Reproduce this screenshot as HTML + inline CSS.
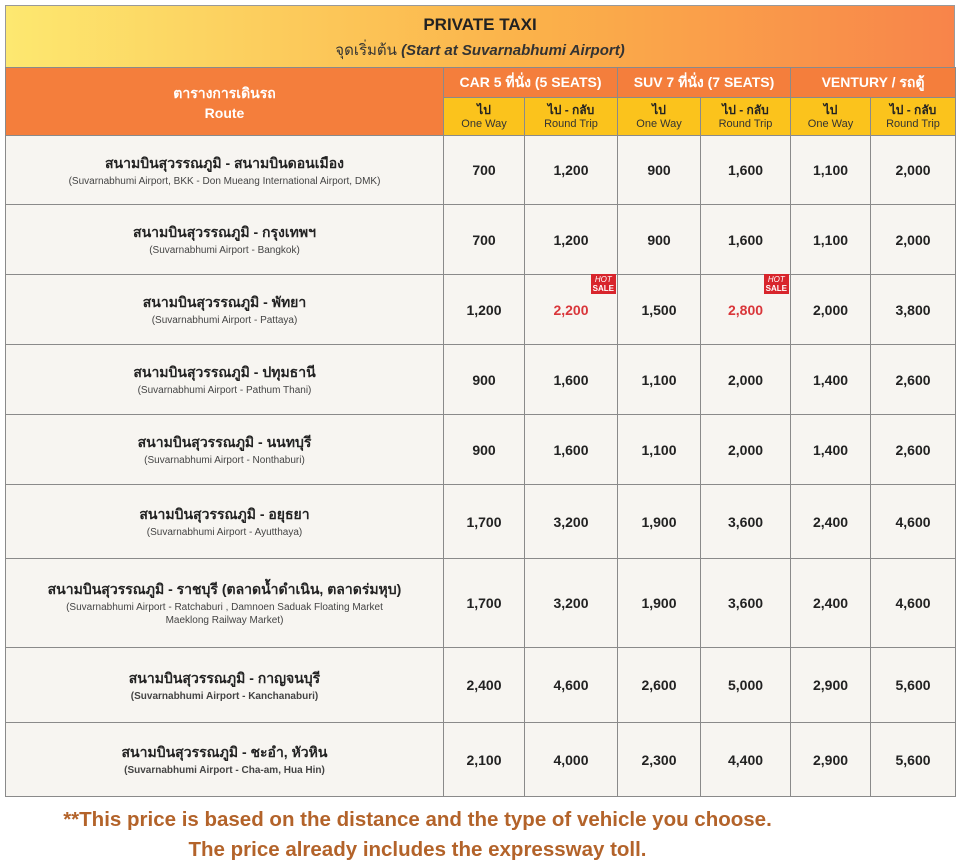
<!DOCTYPE html><html><head><meta charset="utf-8"><style>
body{margin:0;width:960px;height:866px;background:#fff;font-family:"Liberation Sans","Noto Sans CJK SC",sans-serif;position:relative;overflow:hidden}
.title{position:absolute;left:5px;top:5px;width:948px;height:61px;background:linear-gradient(90deg,#fde870,#fbb24a 55%,#f8844a);border:1px solid #999;text-align:center}
.t1{font-weight:bold;font-size:17px;margin-top:9px;color:#222}
.t2{font-size:15px;color:#333;margin-top:3px}
table{position:absolute;left:5px;top:67px;border-collapse:collapse;table-layout:fixed;width:950px}
td{border:1.5px solid #8a8a8a;text-align:center;padding:0;background:#f7f5f1;font-size:14px;font-weight:bold;color:#222;position:relative}
.h{background:#f47e3c;color:#fff;font-size:14px}
.s{background:#fbc31c;color:#222;font-size:12px;font-weight:bold;line-height:14px}
.s small{font-weight:normal;font-size:11px;display:block;color:#333}
.r b{font-size:14px;display:block}
.r span{font-size:10px;font-weight:normal;color:#444;display:block;line-height:13px}
.red{color:#d9363a}
.hot{position:absolute;right:1px;top:-1px;background:#d8252c;color:#fff;font-size:8px;line-height:9px;padding:1px 2px;font-weight:bold}
.hot i{font-weight:normal}
.f{position:absolute;left:0;width:835px;text-align:center;color:#b3632a;font-weight:bold;font-size:20.5px}
</style></head><body>
<div class="title"><div class="t1">PRIVATE TAXI</div><div class="t2">จุดเริ่มต้น <b><i>(Start at Suvarnabhumi Airport)</i></b></div></div>
<table>
<colgroup><col style="width:438px"><col style="width:81px"><col style="width:93px"><col style="width:83px"><col style="width:90px"><col style="width:80px"><col style="width:85px"></colgroup>
<tr style="height:30px"><td class="h" rowspan="2">ตารางการเดินรถ<br>Route</td><td class="h" colspan="2">CAR 5 ที่นั่ง (5 SEATS)</td><td class="h" colspan="2">SUV 7 ที่นั่ง (7 SEATS)</td><td class="h" colspan="2">VENTURY / รถตู้</td></tr>
<tr style="height:38px"><td class="s">ไป<small>One Way</small></td><td class="s">ไป - กลับ<small>Round Trip</small></td><td class="s">ไป<small>One Way</small></td><td class="s">ไป - กลับ<small>Round Trip</small></td><td class="s">ไป<small>One Way</small></td><td class="s">ไป - กลับ<small>Round Trip</small></td></tr>
<tr style="height:69px"><td class="r"><b>สนามบินสุวรรณภูมิ - สนามบินดอนเมือง</b><span>(Suvarnabhumi Airport, BKK - Don Mueang International Airport, DMK)</span></td><td>700</td><td>1,200</td><td>900</td><td>1,600</td><td>1,100</td><td>2,000</td></tr>
<tr style="height:70px"><td class="r"><b>สนามบินสุวรรณภูมิ - กรุงเทพฯ</b><span>(Suvarnabhumi Airport - Bangkok)</span></td><td>700</td><td>1,200</td><td>900</td><td>1,600</td><td>1,100</td><td>2,000</td></tr>
<tr style="height:70px"><td class="r"><b>สนามบินสุวรรณภูมิ - พัทยา</b><span>(Suvarnabhumi Airport - Pattaya)</span></td><td>1,200</td><td class="red"><div class="hot"><i>HOT</i><br>SALE</div>2,200</td><td>1,500</td><td class="red"><div class="hot"><i>HOT</i><br>SALE</div>2,800</td><td>2,000</td><td>3,800</td></tr>
<tr style="height:70px"><td class="r"><b>สนามบินสุวรรณภูมิ - ปทุมธานี</b><span>(Suvarnabhumi Airport - Pathum Thani)</span></td><td>900</td><td>1,600</td><td>1,100</td><td>2,000</td><td>1,400</td><td>2,600</td></tr>
<tr style="height:70px"><td class="r"><b>สนามบินสุวรรณภูมิ - นนทบุรี</b><span>(Suvarnabhumi Airport - Nonthaburi)</span></td><td>900</td><td>1,600</td><td>1,100</td><td>2,000</td><td>1,400</td><td>2,600</td></tr>
<tr style="height:74px"><td class="r"><b>สนามบินสุวรรณภูมิ - อยุธยา</b><span>(Suvarnabhumi Airport - Ayutthaya)</span></td><td>1,700</td><td>3,200</td><td>1,900</td><td>3,600</td><td>2,400</td><td>4,600</td></tr>
<tr style="height:89px"><td class="r"><b>สนามบินสุวรรณภูมิ - ราชบุรี (ตลาดน้ำดำเนิน, ตลาดร่มหุบ)</b><span>(Suvarnabhumi Airport - Ratchaburi , Damnoen Saduak Floating Market<br>Maeklong Railway Market)</span></td><td>1,700</td><td>3,200</td><td>1,900</td><td>3,600</td><td>2,400</td><td>4,600</td></tr>
<tr style="height:75px"><td class="r"><b>สนามบินสุวรรณภูมิ - กาญจนบุรี</b><span style="font-weight:bold">(Suvarnabhumi Airport - Kanchanaburi)</span></td><td>2,400</td><td>4,600</td><td>2,600</td><td>5,000</td><td>2,900</td><td>5,600</td></tr>
<tr style="height:74px"><td class="r"><b>สนามบินสุวรรณภูมิ - ชะอำ, หัวหิน</b><span style="font-weight:bold">(Suvarnabhumi Airport - Cha-am, Hua Hin)</span></td><td>2,100</td><td>4,000</td><td>2,300</td><td>4,400</td><td>2,900</td><td>5,600</td></tr>
</table>
<div class="f" style="top:808px">**This price is based on the distance and the type of vehicle you choose.</div>
<div class="f" style="top:838px">The price already includes the expressway toll.</div>
</body></html>
